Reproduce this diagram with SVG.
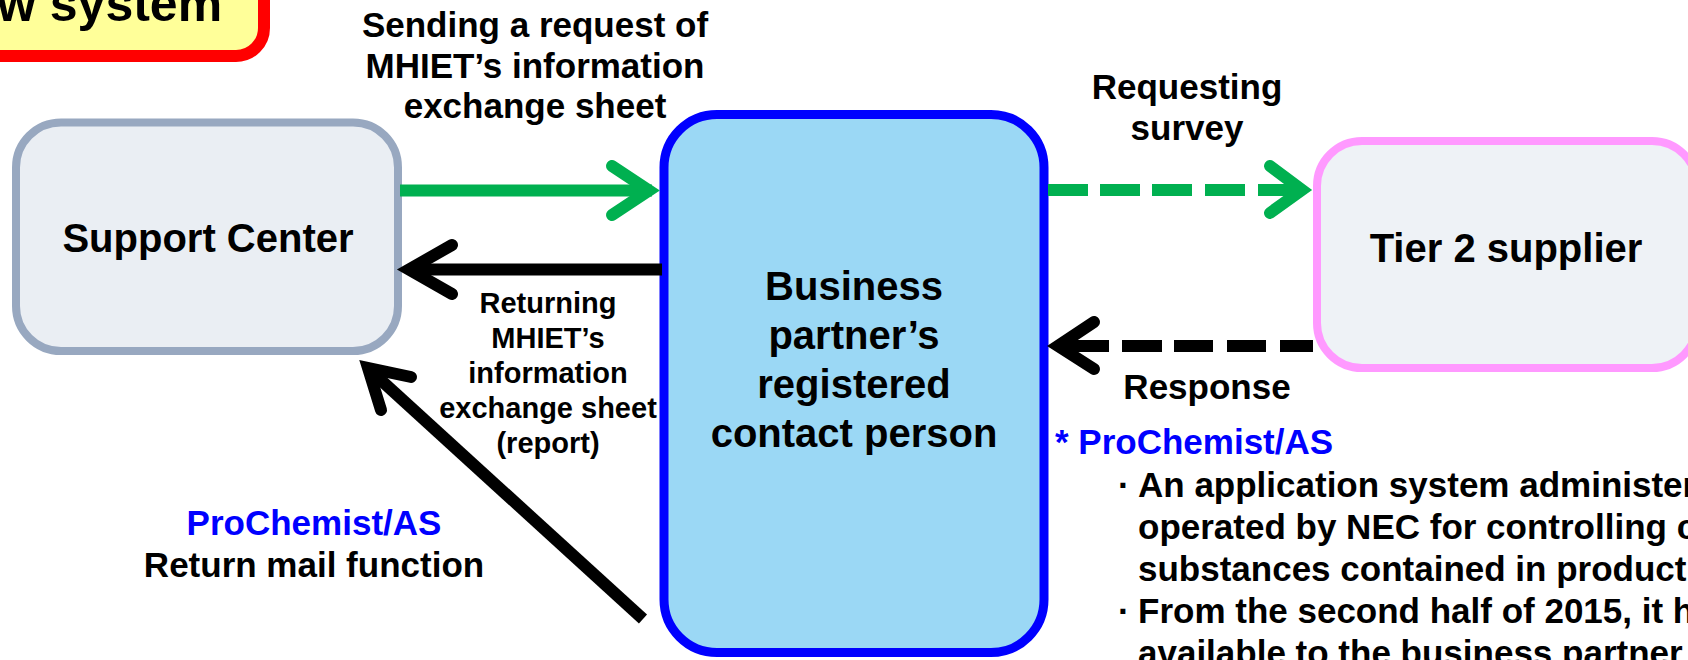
<svg xmlns="http://www.w3.org/2000/svg" width="1688" height="660" viewBox="0 0 1688 660">
<style>
text{font-family:"Liberation Sans",Arial,sans-serif;font-weight:bold;fill:#000}
.c{text-anchor:middle}
.f40{font-size:40px}
.f35{font-size:35px}
.f29{font-size:29px}
.blue{fill:#0000FF}
.ln{fill:none;stroke-width:12}
.hd{fill:none;stroke-width:12;stroke-linecap:round;stroke-linejoin:miter;stroke-miterlimit:10}
.g{stroke:#00B050}
.k{stroke:#000}
</style>
<rect width="1688" height="660" fill="#FFFFFF"/>
<g id="title">
<rect x="-50" y="-50" width="314" height="106" rx="28" fill="#FFFF99" stroke="#FF0000" stroke-width="12"/>
<text x="-3" y="21" style="font-size:50px">w system</text>
</g>
<g id="support-center">
<rect x="16" y="122.5" width="382" height="228.5" rx="45" fill="#EAEEF3" stroke="#98A8C0" stroke-width="8"/>
<text class="c f40" x="208" y="252">Support Center</text>
</g>
<g id="business-partner">
<rect x="664" y="114.5" width="380" height="538" rx="53" fill="#9BD8F5" stroke="#0000FF" stroke-width="9"/>
<text class="c f40" x="854" y="300">Business</text>
<text class="c f40" x="854" y="349">partner’s</text>
<text class="c f40" x="854" y="398">registered</text>
<text class="c f40" x="854" y="447">contact person</text>
</g>
<g id="tier2-supplier">
<rect x="1317" y="141" width="380" height="227" rx="45" fill="#EEF2F6" stroke="#FF99FF" stroke-width="8"/>
<text class="c f40" x="1506" y="262">Tier 2 supplier</text>
</g>
<g id="connectors">
<path class="ln g" d="M400,190.5 H652"/>
<path class="hd g" d="M612,166 L649,190.5 L612,215"/>
<path class="ln k" d="M662,269.5 H412"/>
<path class="hd k" d="M452,245 L409,269.5 L452,294"/>
<path class="ln g" d="M1048,190 H1302" stroke-dasharray="40 12 40 12 40 13 40 13 60"/>
<path class="hd g" d="M1270,166 L1302,190 L1270,213"/>
<path class="ln k" d="M1313,346 H1058" stroke-dasharray="33 14 39 14 39 12 40 13 70"/>
<path class="hd k" d="M1094,322 L1058,346 L1094,369"/>
<path class="ln k" d="M643,619 L372,372" stroke-width="13"/>
<path class="hd k" d="M411,377 L368,368 L381,410" stroke-width="13"/>
</g>
<g id="labels">
<text class="c f35" x="535" y="36.5">Sending a request of</text>
<text class="c f35" x="535" y="77.5">MHIET’s information</text>
<text class="c f35" x="535" y="118">exchange sheet</text>
<text class="c f29" x="548" y="313">Returning</text>
<text class="c f29" x="548" y="348">MHIET’s</text>
<text class="c f29" x="548" y="383">information</text>
<text class="c f29" x="548" y="418">exchange sheet</text>
<text class="c f29" x="548" y="453">(report)</text>
<text class="c f35 blue" x="314" y="535">ProChemist/AS</text>
<text class="c f35" x="314" y="577">Return mail function</text>
<text class="c f35" x="1187" y="99">Requesting</text>
<text class="c f35" x="1187" y="140">survey</text>
<text class="c f35" x="1207" y="399">Response</text>
<text class="f35 blue" x="1055" y="454">* ProChemist/AS</text>
<text class="f35" x="1118" y="497">·</text>
<text class="f35" x="1138" y="497">An application system administer</text>
<text class="f35" x="1138" y="539">operated by NEC for controlling c</text>
<text class="f35" x="1138" y="581">substances contained in product</text>
<text class="f35" x="1118" y="623">·</text>
<text class="f35" x="1138" y="623">From the second half of 2015, it h</text>
<text class="f35" x="1138" y="665">available to the business partner</text>
</g>
</svg>
